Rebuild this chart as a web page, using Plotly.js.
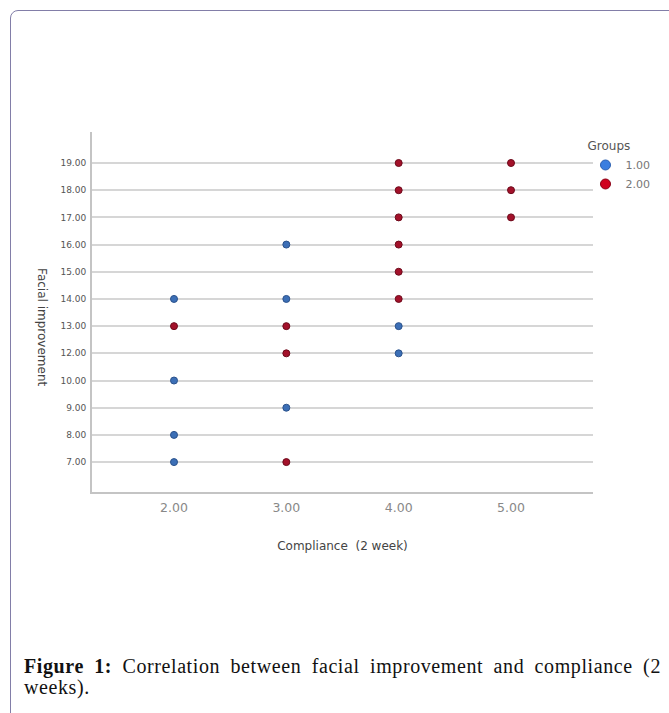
<!DOCTYPE html>
<html>
<head>
<meta charset="utf-8">
<script src="https://cdn.plot.ly/plotly-3.0.1.min.js"></script>
<style>
  html, body { margin: 0; padding: 0; background: #ffffff; }
  #wrap { position: relative; width: 669px; height: 713px; overflow: hidden; }
  #frame { position: absolute; left: 10px; top: 10px; width: 720px; height: 760px;
           border: 1.5px solid #827ea8; border-radius: 8px; box-sizing: border-box; }
  #chart { position: absolute; left: 0; top: 0; width: 669px; height: 713px; }
  #caption { position: absolute; left: 24px; top: 656px; width: 637px;
             font-family: "Liberation Serif", "Times New Roman", serif; font-size: 20px;
             letter-spacing: 0.6px; line-height: 21px; color: #111; }
  #caption .l1 { text-align: justify; text-align-last: justify; }
</style>
</head>
<body>
<div id="wrap">
  <div id="frame"></div>
  <div id="chart"></div>
  <div id="caption">
    <div class="l1"><b>Figure 1:</b> Correlation between facial improvement and compliance (2</div>
    <div>weeks).</div>
  </div>
</div>
<script>
// Y axis categories (note: 11.00 is absent in the original chart)
const yCategories = ['7.00','8.00','9.00','10.00','12.00','13.00','14.00','15.00','16.00','17.00','18.00','19.00'];
const xTickValues = [2, 3, 4, 5];
const xTickLabels = ['2.00', '3.00', '4.00', '5.00'];

// Group 1.00 (blue)
const group1X = [2, 2, 2, 2, 3, 3, 3, 4, 4];
const group1Y = [14, 10, 8, 7, 16, 14, 9, 13, 12];

// Group 2.00 (red)
const group2X = [2, 3, 3, 3, 4, 4, 4, 4, 4, 4, 5, 5, 5];
const group2Y = [13, 13, 12, 7, 19, 18, 17, 16, 15, 14, 19, 18, 17];

const groupNames = ['1.00', '2.00'];
const blue = '#3c6fb6', blueEdge = '#2b528c';
const red = '#a3112a', redEdge = '#6d0a1b';

const toCat = v => v.toFixed(2);
const FONT = 'DejaVu Sans, Verdana, sans-serif';

const traces = [
  { x: group1X, y: group1Y.map(toCat), type: 'scatter', mode: 'markers', showlegend: false,
    marker: { color: blue, size: 7, line: { color: blueEdge, width: 1 } }, hoverinfo: 'x+y' },
  { x: group2X, y: group2Y.map(toCat), type: 'scatter', mode: 'markers', showlegend: false,
    marker: { color: red, size: 7, line: { color: redEdge, width: 1 } }, hoverinfo: 'x+y' },
  // legend entries
  { x: [null], y: [null], type: 'scatter', mode: 'markers', name: groupNames[0],
    marker: { color: '#3a7ee0', size: 10, line: { color: '#2b5fb0', width: 1 } } },
  { x: [null], y: [null], type: 'scatter', mode: 'markers', name: groupNames[1],
    marker: { color: '#d0021f', size: 10, line: { color: '#8a0014', width: 1 } } }
];

const layout = {
  width: 669, height: 713,
  margin: { l: 92, r: 76, t: 132, b: 221, pad: 0 },
  paper_bgcolor: 'rgba(0,0,0,0)',
  plot_bgcolor: 'rgba(0,0,0,0)',
  font: { family: FONT, color: '#555' },
  xaxis: {
    range: [1.27, 5.73], tickmode: 'array', tickvals: xTickValues, ticktext: xTickLabels,
    showgrid: false, zeroline: false, showline: true, linecolor: '#c4c4c4', linewidth: 2,
    ticks: '', tickfont: { family: FONT, size: 12.5, color: '#888' }, ticklabelstandoff: 3,
    title: { text: 'Compliance  (2 week)', font: { family: FONT, size: 12, color: '#444' }, standoff: 28 }
  },
  yaxis: {
    type: 'category', categoryorder: 'array', categoryarray: yCategories,
    tickvals: yCategories, ticktext: yCategories,
    range: [-1.1, 12.14], showgrid: true, gridcolor: '#d6d6d6', gridwidth: 2,
    zeroline: false, showline: true, linecolor: '#c4c4c4', linewidth: 2,
    ticks: '', tickfont: { family: FONT, size: 9, color: '#555' }, ticklabelstandoff: 2
  },
  showlegend: true,
  legend: {
    x: 0.985, xanchor: 'left', y: 0.992, yanchor: 'top',
    title: { text: 'Groups', font: { family: FONT, size: 12, color: '#555' } },
    font: { family: FONT, size: 11, color: '#777' }, itemwidth: 30, tracegroupgap: 0,
    bgcolor: 'rgba(0,0,0,0)'
  },
  annotations: [
    { text: 'Facial improvement', xref: 'paper', yref: 'paper', x: -0.0998, y: 0.458,
      xanchor: 'center', yanchor: 'middle', textangle: 90, showarrow: false,
      font: { family: FONT, size: 12, color: '#444' } }
  ]
};

Plotly.newPlot('chart', traces, layout, { displayModeBar: false, staticPlot: true });
</script>
</body>
</html>
